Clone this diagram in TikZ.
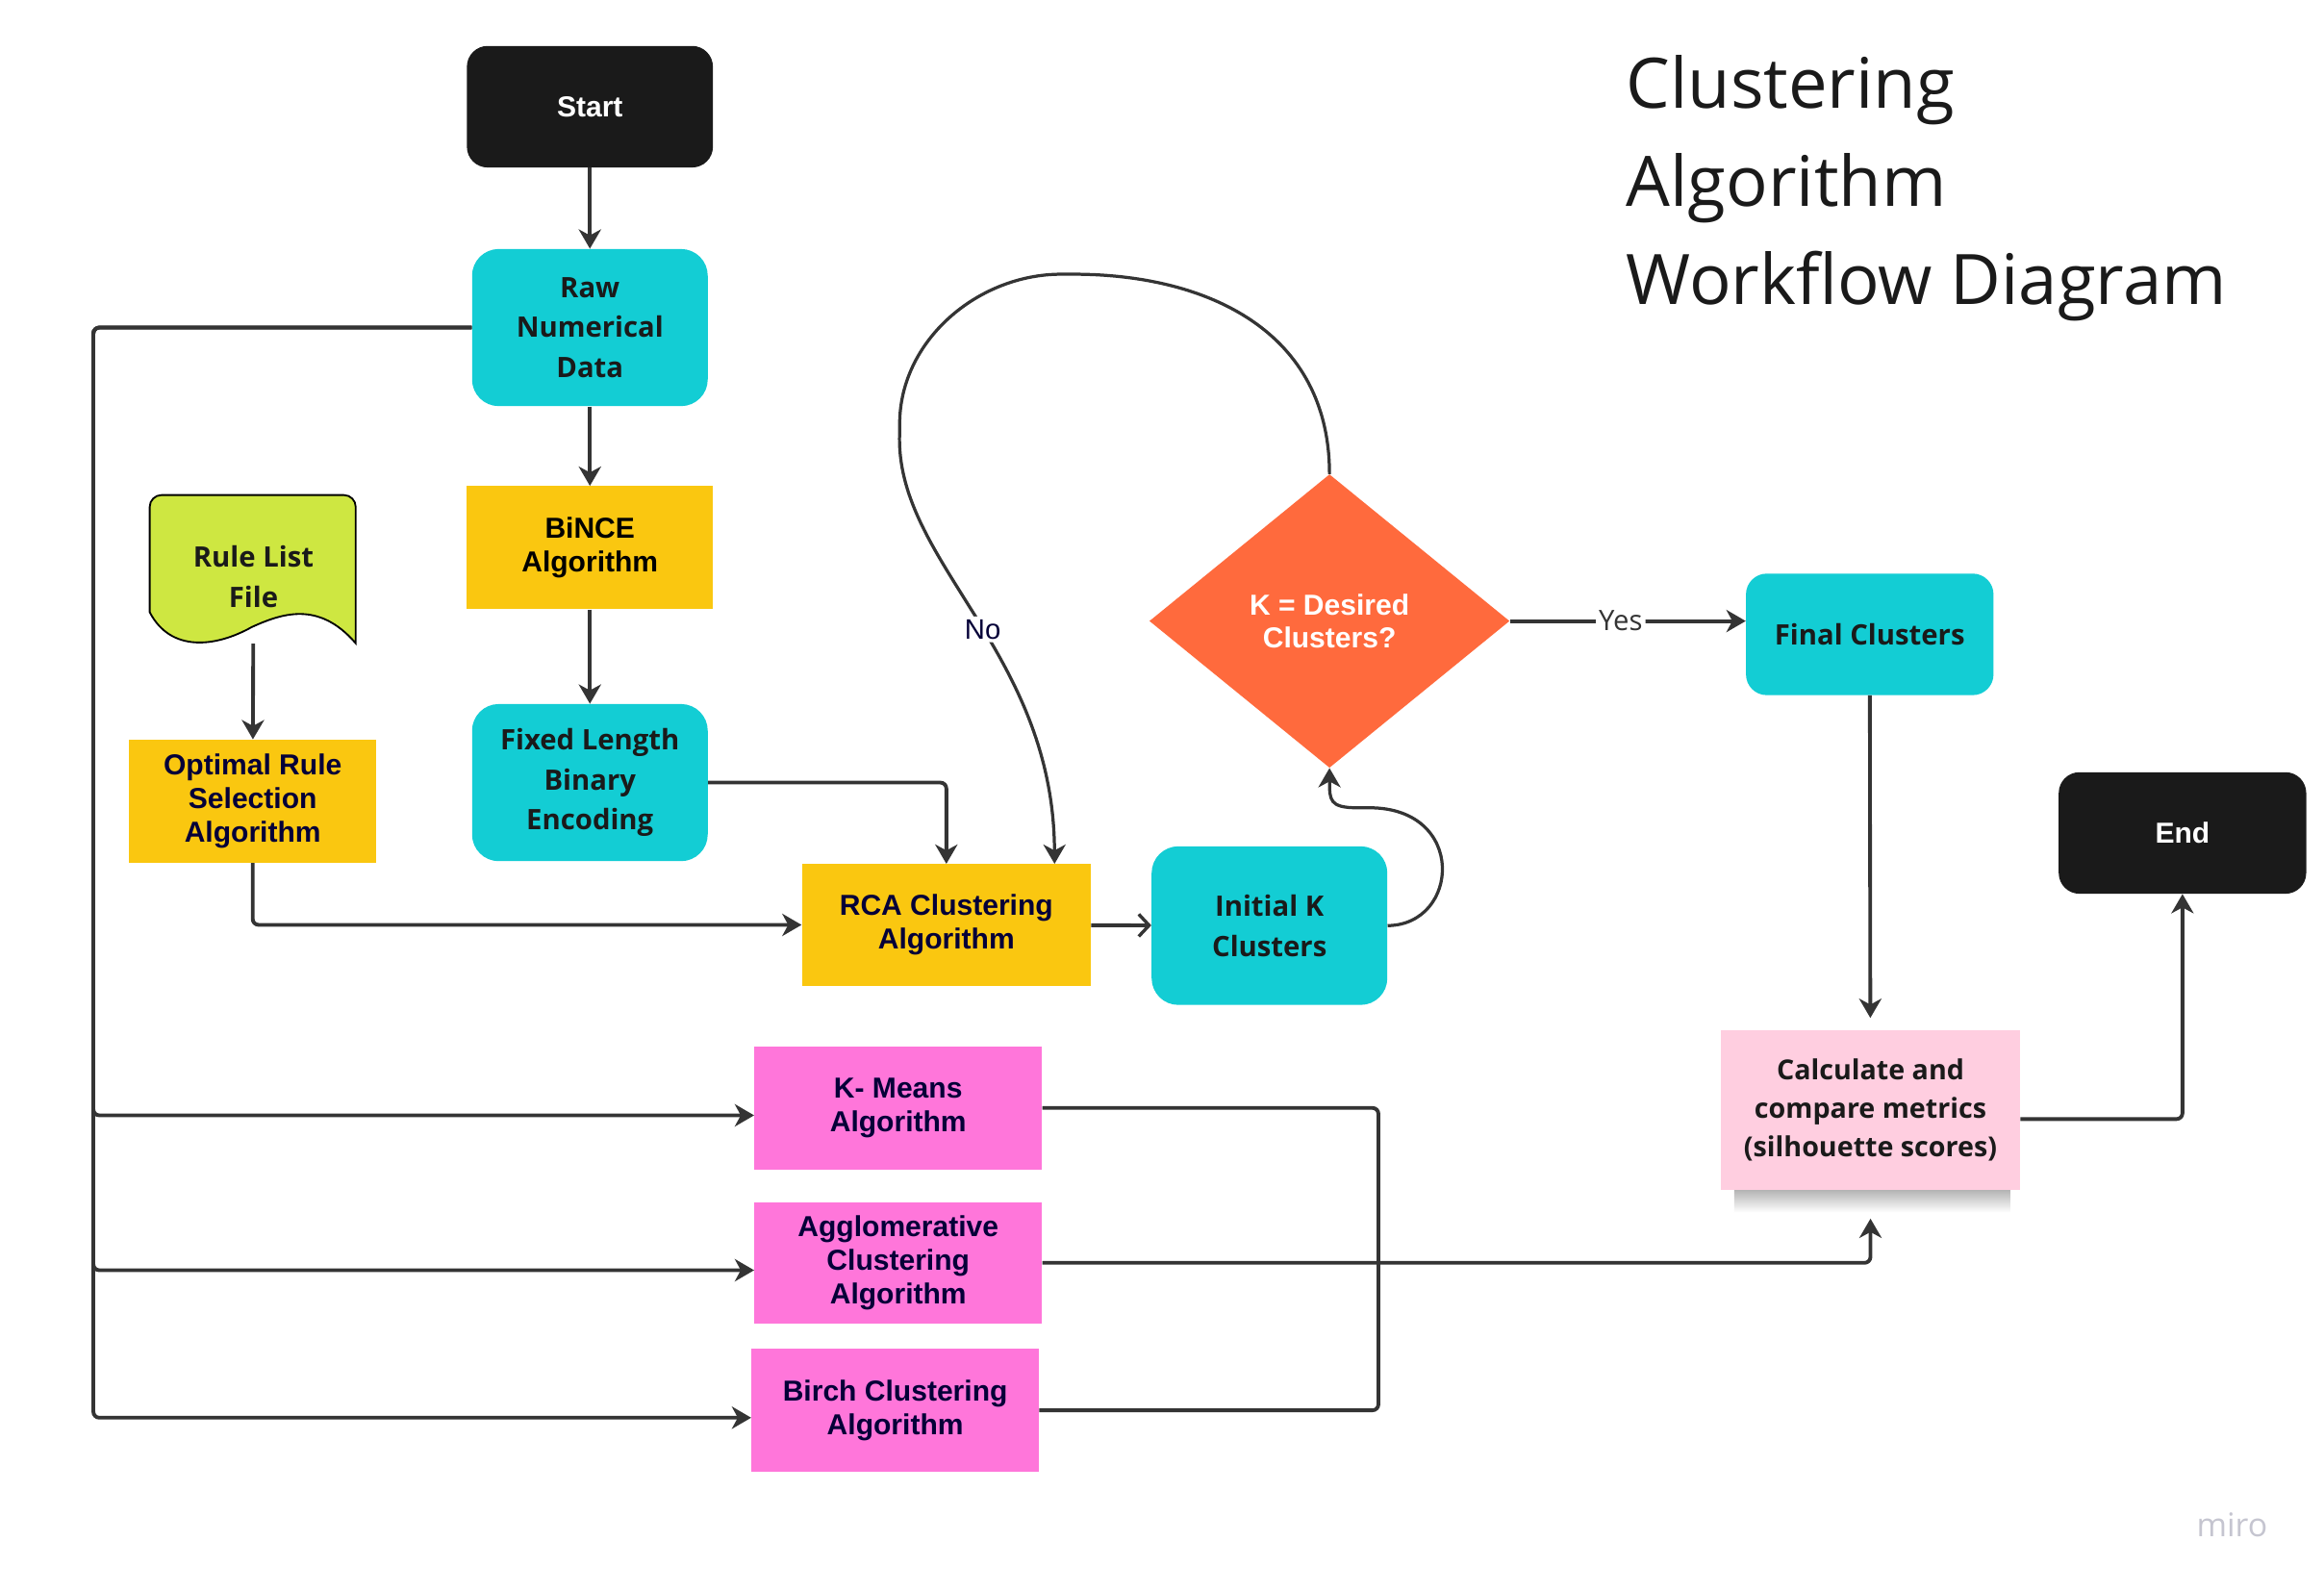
\documentclass[tikz,border=0pt]{standalone}
\usepackage{fontspec}
\usetikzlibrary{shapes.geometric, arrows.meta}
\newfontfamily\osans{Open Sans}
\newfontfamily\lsans{Liberation Sans}
\definecolor{mcyan}{HTML}{13CDD4}
\definecolor{myellow}{HTML}{FAC710}
\definecolor{mmagenta}{HTML}{FF76DA}
\definecolor{morange}{HTML}{FF6A3D}
\definecolor{mlime}{HTML}{CEE741}
\definecolor{mpink}{HTML}{FFCEE0}
\definecolor{mblack}{HTML}{1A1A1A}
\definecolor{mnavy}{HTML}{050038}
\definecolor{mline}{HTML}{343434}
\definecolor{mgrey}{HTML}{C5C5D0}
\newcommand{\roundFont}{\osans\bfseries\fontsize{19}{27}\selectfont}
\newcommand{\rectFont}{\lsans\bfseries\fontsize{19.5}{22.5}\selectfont}
\tikzset{
  nodeAll/.style={align=center, inner sep=0pt},
  nodeCyan/.style={fill=mcyan, text=mblack, rounded corners=18pt, font=\roundFont, minimum width=159pt, minimum height=106pt},
  nodeYellow/.style={fill=myellow, text=mnavy, font=\rectFont, minimum width=166pt, minimum height=83pt},
  nodeMagenta/.style={fill=mmagenta, text=mnavy, font=\rectFont, minimum width=194pt, minimum height=83pt},
  nodeBlack/.style={fill=mblack, text=white, rounded corners=14pt, font=\rectFont, minimum width=166pt, minimum height=82pt},
  nodeDecision/.style={diamond, fill=morange, text=white, font=\rectFont, minimum width=243pt, minimum height=198pt},
  lineAll/.style={draw=mline, line width=2.5pt, rounded corners=4pt},
  arrowAll/.style={lineAll, -{Stealth[length=13pt, width=15pt, inset=4pt]}},
  arrowOpen/.style={lineAll, -{Straight Barb[length=7pt, width=15pt, line width=2.2pt]}},
  curveAll/.style={arrowAll, line width=2.1pt},
  labelAll/.style={fill=white, inner sep=2pt, font=\osans\fontsize{19}{22}\selectfont}
}

\begin{document}
\begin{tikzpicture}[x=1pt, y=-1pt]
  \useasboundingbox[fill=white] (0,0) rectangle (1568,1074);

  % title
  \node[anchor=west, align=left, inner sep=0pt, text=mblack, font=\osans\fontsize{47}{66.5}\selectfont] (title) at (1097,127) {Clustering\\Algorithm\\Workflow Diagram};

  % main column
  \node[nodeAll, nodeBlack] (start) at (398,72) {Start};
  \node[nodeAll, nodeCyan] (raw) at (398,221) {Raw\\Numerical\\Data};
  \node[nodeAll, nodeYellow, text=black] (bince) at (398,369.5) {BiNCE\\Algorithm};
  \node[nodeAll, nodeCyan] (fixed) at (398,528) {Fixed Length\\Binary\\Encoding};

  % rule list document
  \draw[black, line width=1.2pt, fill=mlime, rounded corners=8pt] (101,413) -- (101,334) -- (240,334) [sharp corners] -- (240,434)
    .. controls (215,405) and (190,414) .. (170,423)
    .. controls (145,437) and (115,440) .. (101,413) -- cycle;
  \node[nodeAll, font=\roundFont, text=mblack, minimum width=139pt, minimum height=90pt] (rulelist) at (171,389) {Rule List\\File};
  \node[nodeAll, nodeYellow, minimum width=167pt] (optimal) at (170.5,540.5) {Optimal Rule\\Selection\\Algorithm};

  \node[nodeAll, nodeYellow, minimum width=195pt, minimum height=82pt] (rca) at (638.5,624) {RCA Clustering\\Algorithm};
  \node[nodeAll, nodeCyan, minimum height=107pt] (initk) at (856.5,624.5) {Initial K\\Clusters};
  \node[nodeAll, nodeDecision] (decision) at (897,419) {K = Desired\\Clusters?};
  \node[nodeAll, nodeCyan, rounded corners=14pt, minimum width=167pt, minimum height=82pt] (final) at (1261.5,428) {Final Clusters};
  \node[nodeAll, nodeBlack, minimum width=167pt] (stop) at (1472.5,562) {End};

  % metrics sticky note
  \shade[top color=black!35, bottom color=white] (1170,800) rectangle (1356,818);
  \node[nodeAll, fill=mpink, text=mblack, font=\osans\bfseries\fontsize{18.6}{26}\selectfont, minimum width=202pt, minimum height=108pt] (calc) at (1262,749) {Calculate and\\compare metrics\\(silhouette scores)};

  % other algorithms
  \node[nodeAll, nodeMagenta] (kmeans) at (606,747.5) {K- Means\\Algorithm};
  \node[nodeAll, nodeMagenta, minimum height=82pt] (aggl) at (606,852) {Agglomerative\\Clustering\\Algorithm};
  \node[nodeAll, nodeMagenta] (birch) at (604,951.5) {Birch Clustering\\Algorithm};

  \node[text=mgrey, font=\osans\fontsize{22}{24}\selectfont] (miro) at (1506,1029) {miro};

  \coordinate (busL) at (63,221);
  \coordinate (busR) at (930,852);

  % connectors
  \draw[arrowAll] (start) -- (raw);
  \draw[arrowAll] (raw) -- (bince);
  \draw[arrowAll] (bince) -- (fixed);
  \draw[arrowAll] (rulelist) -- (optimal);
  \draw[arrowAll] (fixed.east) -| (rca.north);
  \draw[arrowAll] (optimal.south) |- (rca.west);
  \draw[arrowOpen] (rca) -- (initk);
  \draw[curveAll] (initk.east) .. controls (985,624) and (990,545) .. (920,545)
    .. controls (897,545) and (897,540) .. (decision.south);
  \draw[curveAll] (decision.north) to[out=90, in=0, looseness=1.1] (720,185)
    to[out=180, in=90] (607,290)
    .. controls (605,380) and (711,440) .. node[labelAll, font=\lsans\fontsize{19}{22}\selectfont, text=mnavy, pos=0.53] {No} ([xshift=73pt]rca.north);
  \draw[arrowAll] (decision.east) -- node[labelAll, text=mline, pos=0.47] {Yes} (final.west |- decision.east);
  \draw[arrowAll, shorten >=8pt] (final) -- (calc);
  \draw[arrowAll] ([yshift=-6pt]calc.east) -| (stop.south);

  \draw[arrowAll] (raw.west) -- (busL) |- ([yshift=-5pt]kmeans.west);
  \draw[arrowAll] (raw.west) -- (busL) |- ([yshift=-5pt]aggl.west);
  \draw[arrowAll] (raw.west) -- (busL) |- ([yshift=-5pt]birch.west);

  \draw[lineAll] (kmeans.east) -| (busR);
  \draw[lineAll] (birch.east) -| (busR);
  \draw[arrowAll, shorten >=19pt] (aggl.east) -| (calc.south);
\end{tikzpicture}
\end{document}
